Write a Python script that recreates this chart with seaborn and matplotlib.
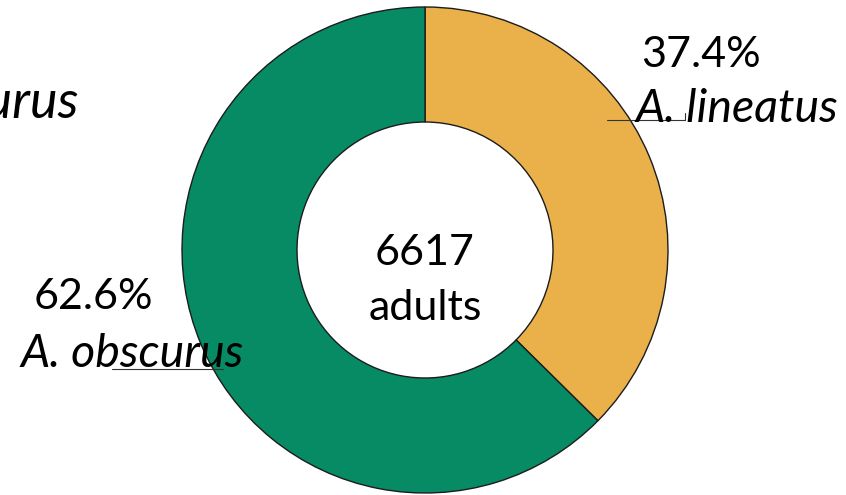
import matplotlib
matplotlib.use("Agg")
import matplotlib.pyplot as plt
import seaborn as sns

# Species share of adult captures
species = ["A. lineatus", "A. obscurus"]
shares = [37.4, 62.6]
share_labels = ["37.4%", "62.6%"]
total_adults = 6617
colors = ["#EAB14B", "#068B65"]

sns.set_theme(style="white")
plt.rcParams["font.family"] = ["Lato", "DejaVu Sans"]

W, H = 846, 495
fig = plt.figure(figsize=(W / 100, H / 100), dpi=100)
ax = fig.add_axes([0, 0, 1, 1])

cx, cy, r_out, r_in = 425, 250, 243, 128


def py(y):
    # convert a top-down pixel row to the axes' upward y coordinate
    return H - y


ax.pie(shares, colors=colors, startangle=90, counterclock=False,
       radius=r_out, center=(cx, py(cy)),
       wedgeprops=dict(width=r_out - r_in, edgecolor="#1c1c1c", linewidth=1.0))
ax.set_xlim(0, W)
ax.set_ylim(0, H)
ax.set_aspect("equal")
ax.set_axis_off()

fs = 31
fs_it = 33.5
# center total
ax.text(cx, py(265), f"{total_adults}", ha="center", va="baseline", fontsize=fs, color="black")
ax.text(cx, py(320), "adults", ha="center", va="baseline", fontsize=fs, color="black")

# A. lineatus label with leader line
ax.plot([607, 685], [py(120), py(120)], color="#333333", lw=0.8)
ax.plot([685, 685], [py(113), py(120)], color="#333333", lw=0.8)
ax.text(641, py(67), share_labels[0], ha="left", va="baseline", fontsize=fs, color="black")
ax.text(636, py(122), species[0], ha="left", va="baseline", fontsize=fs_it,
        style="italic", color="black")

# A. obscurus label with leader line
ax.plot([112, 223], [py(369), py(369)], color="#333333", lw=0.8)
ax.text(34, py(309), share_labels[1], ha="left", va="baseline", fontsize=fs, color="black")
ax.text(21, py(367), species[1], ha="left", va="baseline", fontsize=fs_it,
        style="italic", color="black")

# larger copy of the obscurus name running off the left edge
ax.text(79, py(118), species[1], ha="right", va="baseline", fontsize=fs_it * 1.12,
        style="italic", color="black")

fig.savefig("out.png", dpi=100)
